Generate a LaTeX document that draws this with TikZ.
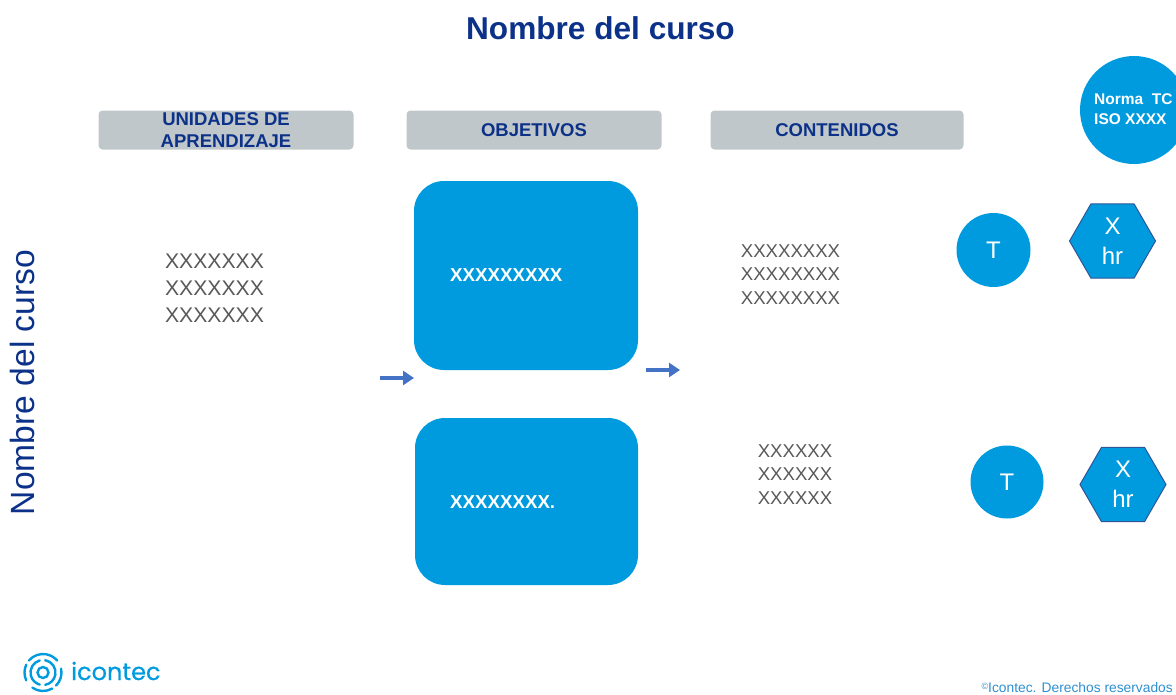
\documentclass[tikz,border=0pt]{standalone}
\usepackage{fontspec}
\setmainfont{Liberation Sans}
\newfontfamily\brandfont[FakeBold=0.6]{Poppins}
\usetikzlibrary{shapes.geometric,arrows.meta}
\definecolor{navy}{HTML}{0B3188}
\definecolor{cblue}{HTML}{009BDE}
\definecolor{hdr}{HTML}{C0C7CA}
\definecolor{txtg}{HTML}{595959}
\definecolor{arr}{HTML}{4472C4}
\definecolor{hexb}{HTML}{2F5597}
\definecolor{copyb}{HTML}{2E8FCF}
\tikzset{
  x=1pt,y=-1pt,
  hdrbox/.style={fill=hdr,rounded corners=4pt,minimum height=39pt,inner sep=0pt,text=navy,align=center,font=\fontsize{18.5}{22.5}\selectfont\bfseries},
  bluebox/.style={fill=cblue,rounded corners=30pt,inner sep=0pt},
  boxtext/.style={text=white,font=\fontsize{18.7}{22}\selectfont\bfseries,inner sep=0pt,anchor=west},
  greytext/.style={text=txtg,align=center,inner sep=0pt},
  circ/.style={circle,fill=cblue,inner sep=0pt,text=white,align=center,font=\fontsize{24}{28}\selectfont},
  hexa/.style={regular polygon,regular polygon sides=6,shape border rotate=0,fill=cblue,draw=hexb,line width=1pt,inner sep=0pt,minimum size=86pt,text=white,align=center,font=\fontsize{24}{30}\selectfont},
  flow/.style={draw=arr,-{Triangle[length=11pt,width=14pt]},line width=3.4pt},
  logo/.style={cblue,line width=2.4pt,line cap=round}
}
\begin{document}
\begin{tikzpicture}
\useasboundingbox (0,0) rectangle (1176,694);
\node[text=navy,inner sep=0pt,font=\fontsize{31.6}{36}\selectfont\bfseries] (title) at (600.5,28) {Nombre del curso};
\node[text=navy,inner sep=0pt,rotate=90,font=\fontsize{33.6}{38}\selectfont] (side) at (22.5,382.5) {Nombre del curso};
\node[hdrbox,minimum width=255pt] (h1) at (226,130) {UNIDADES DE\\APRENDIZAJE};
\node[hdrbox,minimum width=255pt] (h2) at (534,130) {OBJETIVOS};
\node[hdrbox,minimum width=253pt] (h3) at (837,130) {CONTENIDOS};
\node[circ,minimum size=108pt] (norma) at (1134,110) {};
\node[text=white,inner sep=0pt,align=left,anchor=west,font=\fontsize{15.5}{20}\selectfont\bfseries] (normat) at (1094,109) {Norma\ \ TC\\ISO XXXX};
\node[greytext,font=\fontsize{21.2}{27}\selectfont] (u1) at (214.5,288) {XXXXXXX\\XXXXXXX\\XXXXXXX};
\node[bluebox,minimum width=224pt,minimum height=189pt] (b1) at (526,275.5) {};
\node[bluebox,minimum width=223pt,minimum height=167pt] (b2) at (526.5,501.5) {};
\node[boxtext] (t1) at (450,275) {XXXXXXXXX};
\node[boxtext] (t2) at (450,502) {XXXXXXXX.};
\node[greytext,font=\fontsize{18.6}{23.5}\selectfont] (c1) at (790.5,274.5) {XXXXXXXX\\XXXXXXXX\\XXXXXXXX};
\node[greytext,font=\fontsize{18.6}{23.5}\selectfont] (c2) at (795,474.5) {XXXXXX\\XXXXXX\\XXXXXX};
\node[circ,minimum size=74pt] (t3) at (993.5,250) {T};
\node[circ,minimum size=73pt] (t4) at (1007,482) {T};
\node[hexa] (x1) at (1112.5,241) {X\\hr};
\node[hexa] (x2) at (1123,484.5) {X\\hr};
\coordinate (a1s) at (380,378);
\coordinate (a1e) at (414,378);
\coordinate (a2s) at (646,370);
\coordinate (a2e) at (680,370);
\draw[flow] (a1s) -- (a1e);
\draw[flow] (a2s) -- (a2e);
% logo
\begin{scope}[shift={(43,672.5)},x=1pt,y=1pt]
\draw[logo] (0,0) circle (5.5pt);
\draw[logo] (80:12.5) arc (80:-80:12.5);
\draw[logo] (105:12.5) arc (105:255:12.5);
\draw[logo] (140:18.5) arc (140:40:18.5);
\draw[logo] (12:18.5) arc (12:-45:18.5);
\draw[logo] (300:18.5) arc (300:235:18.5);
\draw[logo] (205:18.5) arc (205:155:18.5);
\end{scope}
\node[text=cblue,inner sep=0pt,anchor=west,font=\brandfont\fontsize{24}{28}\selectfont] (brand) at (71,671) {icontec};
\node[text=copyb,inner sep=0pt,anchor=east,font=\fontsize{13.8}{15}\selectfont] (copy) at (1173,688) {\raisebox{3pt}{\fontsize{9}{10}\selectfont©}Icontec. Derechos reservados};
\end{tikzpicture}
\end{document}
